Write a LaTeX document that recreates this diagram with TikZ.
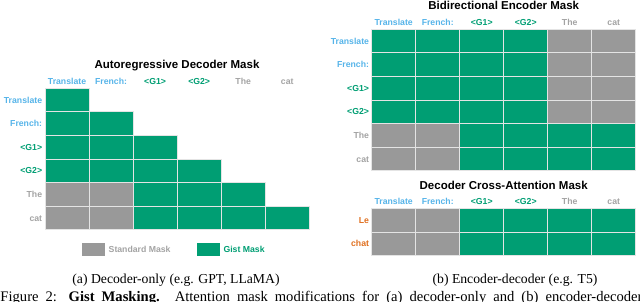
\documentclass[tikz,border=0pt]{standalone}
\usepackage{fontspec}
\setmainfont{Liberation Serif}
\setsansfont{Liberation Sans}
\definecolor{gist}{HTML}{009E73}
\definecolor{stdm}{HTML}{999999}
\definecolor{tblue}{HTML}{56B4E9}
\definecolor{tgray}{HTML}{A3A3A3}
\definecolor{torange}{HTML}{E07020}
\definecolor{cellline}{HTML}{E4E4E4}
\begin{document}
\begin{tikzpicture}[x=1pt,y=-1pt,
  cell/.style={draw=cellline, line width=0.9pt, inner sep=0pt, minimum width=44.05pt, minimum height=23.57pt},
  gcell/.style={cell, fill=gist},
  scell/.style={cell, fill=stdm},
  lbl/.style={font=\sffamily\bfseries\fontsize{8.7}{10}\selectfont, inner sep=0pt, text height=6.23pt, text depth=0pt},
  ttl/.style={font=\sffamily\bfseries\fontsize{11.5}{13}\selectfont, inner sep=0pt, text height=8.23pt, text depth=0pt},
  captxt/.style={font=\fontsize{13.7}{16}\selectfont, inner sep=0pt}]
\useasboundingbox (0,0) rectangle (640,301);
\clip (0,0) rectangle (640,301);

% ---------- (a) Autoregressive decoder mask ----------
\node[ttl] (ta) at (177,64.3) {Autoregressive Decoder Mask};
\foreach \t/\c [count=\j from 0] in {Translate/tblue, French:/tblue, <G1>/gist, <G2>/gist, The/tgray, cat/tgray}{
  \node[lbl, text=\c] (ah\j) at ({45+44.05*\j+22.025},81.2) {\t};
  \node[lbl, text=\c, anchor=east] (ar\j) at (42.3,{88.3+23.57*\j+11.785}) {\t};
}
\foreach \i in {0,...,5}{
  \foreach \j in {0,...,\i}{
    \pgfmathtruncatemacro{\g}{(\i>3 && \j<2) ? 1 : 0}
    \ifnum\g=1 \def\st{scell}\else\def\st{gcell}\fi
    \node[\st] (a-\i-\j) at ({45+44.05*\j+22.025},{88.3+23.57*\i+11.785}) {};
  }
}
% legend
\node[draw=none, fill=stdm, inner sep=0pt, minimum width=23pt, minimum height=12.5pt] (lgs) at (93.7,249.5) {};
\node[lbl, text=tgray, anchor=west] (lgst) at (108.5,249.5) {Standard Mask};
\node[draw=none, fill=gist, inner sep=0pt, minimum width=23pt, minimum height=12.5pt] (lgg) at (208,249.5) {};
\node[lbl, text=gist, anchor=west] (lggt) at (223.3,249.5) {Gist Mask};
\node[captxt, anchor=base] (capa) at (176,283.3) {(a) Decoder-only (e.g. GPT, LLaMA)};

% ---------- (b) Bidirectional encoder mask ----------
\node[ttl] (tb) at (503.7,5.6) {Bidirectional Encoder Mask};
\foreach \t/\c [count=\j from 0] in {Translate/tblue, French:/tblue, <G1>/gist, <G2>/gist, The/tgray, cat/tgray}{
  \node[lbl, text=\c] (bh\j) at ({371.7+44*\j+22},22) {\t};
  \node[lbl, text=\c, anchor=east] (br\j) at (369.2,{29.3+23.57*\j+11.785}) {\t};
  \node[lbl, text=\c] (ch\j) at ({371.7+44*\j+22},201.7) {\t};
}
\foreach \i in {0,...,5}{
  \foreach \j in {0,...,5}{
    \pgfmathtruncatemacro{\g}{((\i<4 && \j>3) || (\i>3 && \j<2)) ? 1 : 0}
    \ifnum\g=1 \def\st{scell}\else\def\st{gcell}\fi
    \node[\st, minimum width=44pt] (b-\i-\j) at ({371.7+44*\j+22},{29.3+23.57*\i+11.785}) {};
  }
}

% ---------- Decoder cross-attention mask ----------
\node[ttl] (tc) at (503.7,185) {Decoder Cross-Attention Mask};
\foreach \t [count=\i from 0] in {Le, chat}{
  \node[lbl, text=torange, anchor=east] (cr\i) at (369.2,{208.3+23.7*\i+11.85}) {\t};
}
\foreach \i in {0,1}{
  \foreach \j in {0,...,5}{
    \ifnum\j<2 \def\st{scell}\else\def\st{gcell}\fi
    \node[\st, minimum width=44pt, minimum height=23.7pt] (c-\i-\j) at ({371.7+44*\j+22},{208.3+23.7*\i+11.85}) {};
  }
}
\node[captxt, anchor=base] (capb) at (515,283.3) {(b) Encoder-decoder (e.g. T5)};

% ---------- figure caption (cut off, justified line) ----------
\node[font=\fontsize{14.6}{17}\selectfont, inner sep=0pt, anchor=base west] (fig) at (0.3,301.5) {\makebox[642pt][s]{Figure 2: \textbf{Gist Masking.} Attention mask modifications for (a) decoder-only and (b) encoder-decoder}};
\end{tikzpicture}
\end{document}
